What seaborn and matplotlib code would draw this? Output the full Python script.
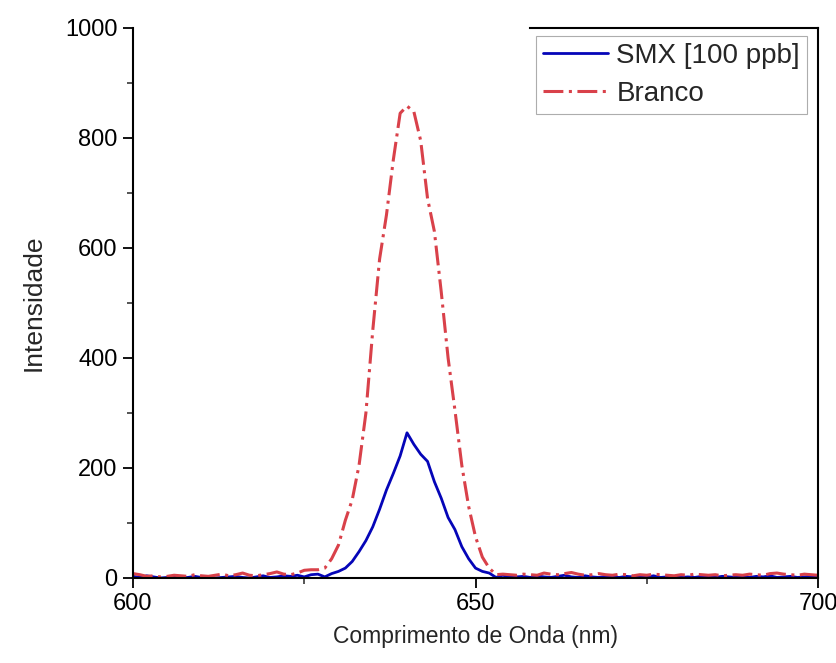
import numpy as np
import pandas as pd
import matplotlib
matplotlib.use("Agg")
import matplotlib.pyplot as plt
import seaborn as sns
from matplotlib.ticker import MultipleLocator

# ---- data ----
wavelength = list(range(600, 701))

smx = [3, 1, 4, 2, 0, 1, 2, 0, 1, 3, 1, 2, 0, 1, 2, 3, 1, 0, 2, 4,
       1, 2, 4, 3, 5, 2, 6, 7, 2, 8, 12, 18, 30, 48, 68, 93, 125, 160, 190, 222,
       264, 243, 225, 212, 175, 145, 110, 88, 57, 35, 18, 12, 9, 1, 5, 1, 2, 3, 1, 4,
       2, 1, 3, 5, 2, 1, 4, 2, 1, 3, 2, 1, 3, 2, 1, 2, 4, 1, 2, 3,
       1, 2, 1, 3, 2, 1, 3, 2, 1, 2, 1, 3, 2, 4, 1, 2, 3, 1, 2, 3, 4]

branco = [8, 6, 3, 4, 2, 3, 5, 4, 3, 6, 4, 3, 5, 7, 4, 6, 9, 5, 4, 6,
          8, 11, 7, 6, 9, 14, 15, 15, 18, 35, 60, 105, 142, 205, 300, 450, 580, 660, 760, 845,
          858, 848, 795, 690, 630, 520, 400, 305, 205, 130, 75, 38, 18, 6, 7, 6, 5, 7, 6, 5,
          9, 7, 6, 8, 10, 7, 5, 6, 8, 6, 5, 7, 6, 4, 6, 5, 7, 6, 5, 4,
          6, 5, 7, 6, 5, 6, 4, 5, 6, 5, 7, 6, 5, 8, 9, 7, 6, 5, 7, 6, 5]

series_names = ["SMX [100 ppb]", "Branco"]
x_ticks = [600, 650, 700]
y_ticks = [0, 200, 400, 600, 800, 1000]

df = pd.DataFrame({
    "wl": wavelength * 2,
    "val": smx + branco,
    "serie": [series_names[0]] * len(wavelength) + [series_names[1]] * len(wavelength),
})

sns.set_style("ticks")
plt.rcParams["font.family"] = ["Liberation Sans", "DejaVu Sans"]

fig = plt.figure(figsize=(8.36, 6.63), dpi=100)
ax = fig.add_axes([133 / 836, 1 - 578 / 663, (818 - 133) / 836, (578 - 28) / 663])

palette = {series_names[0]: "#0505b8", series_names[1]: "#d9414a"}
sns.lineplot(data=df[df.serie == series_names[0]], x="wl", y="val", ax=ax,
             color=palette[series_names[0]], linewidth=2.0, label=series_names[0])
sns.lineplot(data=df[df.serie == series_names[1]], x="wl", y="val", ax=ax,
             color=palette[series_names[1]], linewidth=2.2, label=series_names[1])
ax.lines[1].set_dashes([6.5, 1.8, 1.0, 1.8])

ax.set_xlim(600, 700)
ax.set_ylim(0, 1000)
ax.set_xticks(x_ticks)
ax.set_yticks(y_ticks)
ax.xaxis.set_minor_locator(MultipleLocator(25))
ax.yaxis.set_minor_locator(MultipleLocator(100))
ax.tick_params(which="major", direction="out", length=7, width=1.3, labelsize=17, colors="black")
ax.tick_params(which="minor", direction="out", length=4, width=1.1)
ax.tick_params(axis="x", pad=4)
ax.tick_params(axis="y", pad=4)

for s in ["left", "bottom", "right", "top"]:
    ax.spines[s].set_linewidth(1.5)
    ax.spines[s].set_color("black")
ax.spines["top"].set_bounds(658.0, 700)

ax.set_xlabel("Comprimento de Onda (nm)", fontsize=16.5, labelpad=7)
ax.set_ylabel("Intensidade", fontsize=19, labelpad=14)

leg = ax.legend(loc="upper right", bbox_to_anchor=(0.984, 0.9855), fontsize=20,
                frameon=True, fancybox=False, handlelength=2.35, handletextpad=0.3,
                borderpad=0.25, labelspacing=0.42, borderaxespad=0.0)
leg.get_frame().set_edgecolor("#999999")
leg.get_frame().set_linewidth(0.8)

fig.savefig("out.png", dpi=100)
